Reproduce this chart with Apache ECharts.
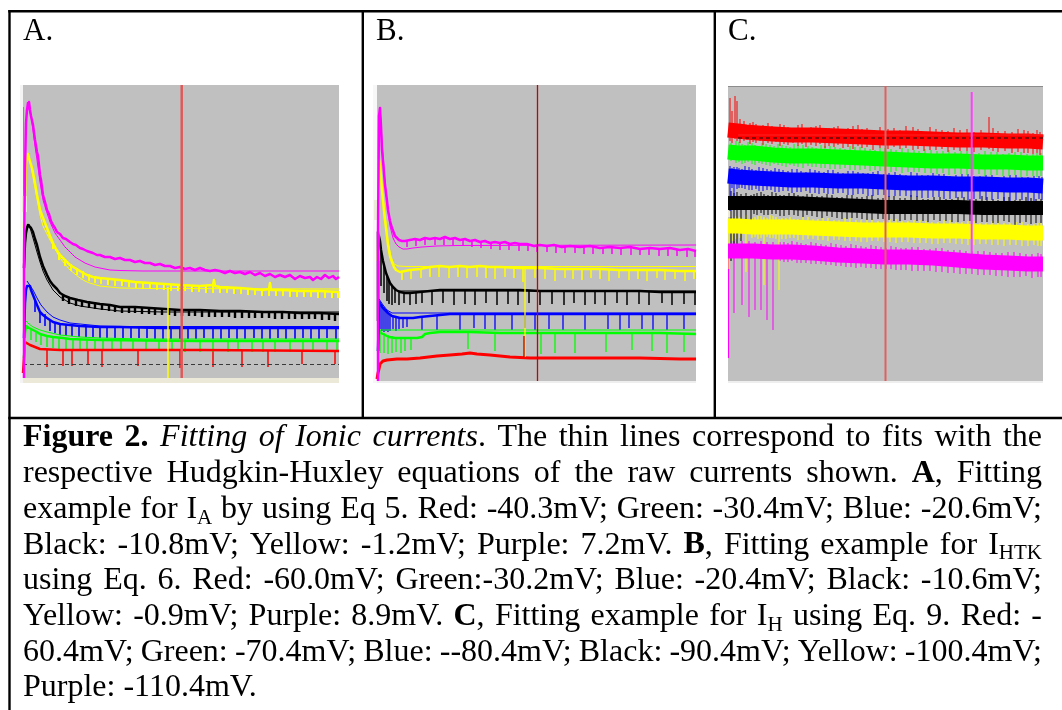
<!DOCTYPE html>
<html>
<head>
<meta charset="utf-8">
<script src="https://cdn.jsdelivr.net/npm/echarts@6/dist/echarts.min.js"></script>
<style>
  html, body { margin: 0; padding: 0; background: #fff; }
  #chart { width: 1062px; height: 710px; }
</style>
</head>
<body>
<div id="chart"></div>
<script>
// ---- panel A (I_A), axis units: samples / arbitrary current ----
var aMagRaw = [[1,0],[1,120],[2,210],[3,255],[4,268],[5,275],[5.5,270],[6,276],[7,268],[8,262],[10,253],[12,238],[14,226],[15,222],[17,203],[18,198],[20,183],[22,176],[24,168],[26,164],[28,157],[30,153],[32,150],[34,146],[37,144],[40,140],[43,139],[47,136],[50,134],[53,133],[57,130],[60,129],[64,127],[67,126],[70,125],[74,123],[77,123],[82,121],[87,121],[92,119],[97,120],[102,118],[107,118],[112,116],[117,117],[122,115],[127,115],[132,113],[137,114],[142,112],[147,112],[152,110],[157,111],[162,109],[167,110],[172,108],[177,110],[182,108],[187,107],[192,108],[197,107],[202,105],[207,107],[212,105],[217,106],[222,104],[227,106],[232,103],[237,105],[242,102],[247,104],[252,101],[257,103],[262,101],[267,103],[272,99],[277,102],[282,100],[287,101],[290,98],[294,101],[298,99],[302,103],[306,100],[310,102],[313,99],[316,101]];
var aMagFit = [[5,272],[8,262],[10,248],[12,232],[14,218],[17,196],[20,178],[24,165],[27,156],[32,145],[37,138],[42,131],[47,126],[52,121],[57,118],[62,115],[67,113],[72,111],[77,110],[87,108],[97,107.5],[120,107],[316,107]];
var aYelRaw = [[1,150],[3,215],[5,224],[6,220],[7,222],[9,210],[11,200],[14,183],[17,168],[20,160],[24,150],[27,142],[30,135],[33,129],[37,123],[42,118],[47,113],[52,110],[57,107],[64,103],[70,101],[77,100],[87,99],[97,98],[112,96],[127,95],[142,94],[157,93],[177,92],[190,93],[191,98],[192,92],[197,91],[217,90],[240,88],[246,89],[247,95],[248,88],[260,88],[277,87],[296,87],[316,86]];
var aYelFit = [[5,223],[8,212],[11,196],[14,180],[17,163],[20,152],[24,144],[27,138],[32,129],[37,120],[42,114],[47,108],[52,104],[57,100],[62,97],[67,95],[72,93.5],[77,92],[87,91],[97,90],[130,89.5],[316,89]];
var aYelTeeth = [[30,136,129],[36,125,118],[42,119,112],[48,114,107],[54,110,103],[60,107,100],[66,104,97],[72,102,95],[78,101,94],[85,100,93],[92,99,92],[99,99,92],[106,98,91],[113,97,90],[120,96,89],[127,96,89],[134,95,88],[141,95,88],[148,94,87],[155,94,87],[162,94,87],[169,93,86],[176,93,86],[183,92,85],[190,92,85],[197,92,85],[204,92,85],[211,91,84],[218,91,84],[225,90,83],[232,90,83],[239,89,82],[246,89,82],[253,89,82],[260,89,82],[267,88,81],[274,88,81],[281,88,81],[288,88,81],[295,88,80],[302,87,80],[309,87,80],[315,87,80]];
var aBlkRaw = [[1,110],[2,135],[3,145],[4,150],[5,153],[6,155],[7,151],[8,150],[10,146],[12,139],[14,133],[17,121],[20,112],[24,103],[27,97],[30,93],[34,89],[37,85],[42,82],[47,80],[55,78],[64,76],[77,74],[87,73],[97,71],[112,71],[127,70],[142,69],[157,68],[177,68],[197,67],[217,67],[240,66],[260,66],[277,65],[296,65],[316,64]];
var aBlkFit = [[6,154],[10,140],[14,126],[17,116],[20,107],[24,98],[30,88],[37,81],[47,75],[57,72],[77,69],[97,67],[140,66],[316,66]];
var aBlkTeeth = [[40,84,77],[46,81,74],[53,79,72],[59,78,71],[66,77,70],[72,76,69],[79,75,68],[86,74,67],[92,73,66],[99,72,65],[106,72,65],[112,72,65],[119,71,64],[126,71,64],[132,70,63],[139,70,63],[146,70,63],[152,69,62],[159,69,62],[166,69,62],[172,69,62],[179,68,61],[186,68,61],[192,68,61],[199,68,61],[206,68,61],[212,67,60],[219,67,60],[226,67,60],[232,67,60],[239,67,60],[246,67,60],[252,66,59],[259,66,59],[266,66,59],[272,66,59],[279,66,59],[286,66,59],[292,66,59],[299,65,58],[306,65,58],[312,65,57]];
var aBluRaw = [[1,40],[2,75],[3,88],[4,92],[5,93],[6,91],[7,92],[8,88],[10,83],[12,78],[14,73],[17,66],[20,63],[24,60],[30,56],[37,54],[47,53],[57,52],[77,51],[97,51],[137,50],[177,50],[237,50],[277,50],[316,50]];
var aBluFit = [[4,97],[6,96],[10,88],[14,80],[18,73],[24,66],[30,61],[37,58],[47,55],[57,54],[77,52],[100,51.5],[316,51.5]];
var aBluSpikes = [[12,79,66],[17,66,55],[22,64,52],[27,58,47],[32,56,45],[37,54,43],[43,53,42],[49,53,42],[56,52,41],[63,52,41],[70,52,41],[77,51,40],[84,51,40],[92,51,40],[100,51,40],[108,51,40],[116,51,40],[124,51,40],[132,50,39],[140,50,39],[148,50,39],[157,50,39],[165,50,39],[173,50,39],[181,50,40],[190,50,39],[198,50,39],[206,50,40],[214,50,39],[222,50,39],[231,50,40],[239,50,39],[247,50,39],[255,50,40],[263,50,39],[272,50,39],[280,50,40],[288,50,39],[296,50,39],[304,50,40],[313,50,39]];
var aGrnRaw = [[1,20],[2,45],[3,52],[4,54],[6,50],[10,48],[14,46],[17,44],[24,42],[30,41],[40,40],[47,39],[60,38.5],[77,38],[120,37.5],[177,37],[240,37],[316,37]];
var aGrnFit = [[3,57],[6,54],[10,51],[17,48],[24,46],[37,43],[57,41],[77,40],[120,39],[316,39]];
var aGrnSpikes = [[8,50,38],[13,47,36],[18,44,33],[24,42,31],[30,41,30],[36,40,29],[43,40,29],[50,39,28],[57,39,28],[64,38.5,28],[72,38.5,28],[80,38,27],[89,38,27],[98,38,27],[110,38,27],[123,37.5,27],[136,37.5,27],[149,37.5,27],[162,37,26],[177,37,26],[190,37,26],[205,37,26],[215,37,27],[229,37,26],[240,37,26],[252,37,26],[267,37,26],[280,37,26],[290,37,26],[304,37,26],[314,37,27]];
var aRedRaw = [[0,5],[1,20],[2,36],[4,35],[7,33],[12,31],[17,29],[27,28.5],[37,28],[77,28],[177,28],[250,27.5],[316,27]];
var aRedSpikes = [[24,28,11],[40,28,12],[49,28,12],[65,28,13],[79,28,11],[115,28,12],[157,28,10],[190,28,11],[219,28,11],[245,28,11],[279,28,14],[312,28,14]];
var aBaseline = [[0,13.5],[316,13.5]];
var aCursorX = 158.7;
var aYelMark = [[145,0],[145,91]];

// ---- panel B (I_HTK) ----
var bMagRaw = [[1,0],[1,150],[2,265],[3,273],[4,255],[5,231],[6,220],[8,196],[10,180],[11,171],[13,160],[15,153],[18,145],[20,143],[22,141],[25,140],[28,140],[33,141],[38,142],[43,141],[48,143],[53,142],[58,143],[63,142],[68,144],[73,142],[78,143],[83,141],[88,142],[93,140],[98,141],[103,139],[108,140],[113,138],[118,139],[123,138],[128,139],[133,137],[138,138],[143,137],[150,137],[157,135],[163,136],[170,135],[177,136],[185,134],[193,135],[203,134],[213,135],[223,133],[233,134],[243,133],[253,134],[263,132],[273,133],[283,132],[293,133],[303,131],[311,132],[319,130]];
var bMagFit = [[3,273],[5,240],[8,200],[10,178],[13,155],[16,143],[19,137],[22,134],[26,132],[30,132],[36,133],[45,134],[60,135],[80,135.5],[319,136]];
var bMagTeeth = [[30,141,134],[39,142,135],[48,143,136],[58,143,136],[67,143,136],[76,143,136],[86,142,135],[95,141,134],[104,140,133],[114,139,132],[123,138,131],[132,138,131],[142,137,130],[151,137,130],[160,136,129],[170,136,129],[179,135,128],[188,135,128],[198,135,128],[207,134,127],[216,134,127],[226,134,127],[235,134,127],[244,133,126],[254,133,126],[263,133,126],[272,133,126],[282,132,125],[291,132,125],[300,132,125],[310,131,124],[318,131,124]];
var bYelRaw = [[1,120],[2,221],[3,215],[5,191],[6,180],[8,161],[10,145],[11,136],[13,125],[15,119],[17,114],[19,111],[21,110],[23,109],[28,110],[33,111],[43,112],[53,114],[63,115],[73,114],[83,115],[93,114],[103,115],[113,114],[123,114],[143,113],[163,113],[183,112],[203,112],[223,112],[243,111],[263,111],[283,111],[303,110],[319,110]];
var bYelFit = [[2,221],[5,195],[8,166],[11,140],[14,124],[17,117],[21,115],[30,114.5],[319,114.5]];
var bYelTeeth = [[25,110,101],[34,111,102],[44,112,103],[53,114,104],[62,115,104],[72,114,103],[81,115,104],[90,114,103],[100,115,104],[109,114,103],[118,114,102],[128,114,104],[137,113,103],[146,113,99],[158,113,103],[168,113,102],[178,112,100],[188,112,103],[196,112,102],[205,112,101],[214,112,103],[223,112,102],[232,111,100],[242,111,103],[252,111,101],[261,111,102],[270,111,100],[280,111,103],[288,111,101],[298,110,102],[308,110,100],[317,110,102]];
var bBlkRaw = [[1,60],[1,149],[2,150],[3,140],[4,131],[6,120],[7,116],[9,108],[11,103],[13,98],[16,94],[19,91],[23,89],[28,88],[33,88],[43,89],[53,90],[63,91],[83,91],[103,91],[123,91],[143,91],[163,90],[183,90],[203,90],[223,90],[243,90],[263,90],[283,89],[303,89],[319,89]];
var bBlkFit = [[20,90],[319,90]];
var bBlkTeeth = [[4,131,95],[7,116,88],[10,106,80],[12,100,77],[15,95,76],[18,92,78],[22,90,76],[27,89,78],[33,89,76],[39,89,77],[45,90,78],[55,90,76],[66,91,78],[77,91,76],[88,91,77],[98,91,76],[109,91,78],[120,91,76],[131,91,77],[141,91,76],[152,91,78],[163,90,76],[175,90,77],[187,90,76],[197,90,78],[208,90,76],[218,90,77],[228,90,76],[240,90,78],[250,90,76],[262,90,77],[272,90,76],[285,89,78],[295,89,76],[307,89,77],[318,89,76]];
var bBluRaw = [[1,30],[2,79],[4,76],[6,73],[8,71],[11,68],[15,65],[19,64],[23,63],[30,63],[36,63],[43,64],[53,65],[63,66],[73,67],[83,67],[103,67],[123,67],[143,67],[163,67],[183,67],[203,67],[223,67],[243,67],[263,67],[283,67],[303,67],[319,67]];
var bBluFit = [[2,82],[6,76],[10,71],[15,68],[25,68],[319,68]];
var bBluSpikes = [[3,79,52],[5,76,50],[7,74,49],[9,72,50],[11,69,49],[13,67,50],[16,65,52],[19,64,50],[22,64,52],[26,63,53],[30,63,54],[45,64,51],[60,66,51],[83,67,51],[97,67,53],[108,67,52],[118,67,51],[135,67,51],[148,67,53],[158,67,51],[172,67,52],[186,67,51],[208,67,51],[231,67,52],[243,67,51],[252,67,53],[265,67,52],[276,67,51],[290,67,51],[307,67,52]];
var bGrnRaw = [[1,30],[2,51],[4,48],[8,46],[12,44],[18,43],[25,43],[33,43],[40,43],[45,44],[48,47],[53,48],[63,49],[73,49],[93,49],[123,48],[163,48],[203,48],[243,48],[283,48],[319,47]];
var bGrnFit = [[1,51],[319,51]];
var bGrnSpikes = [[3,51,28],[7,48,28],[11,46,27],[15,45,28],[19,44,29],[24,43,28],[28,43,30],[34,43,31],[91,49,32],[118,49,30],[164,48,27],[178,48,28],[198,48,28],[229,48,29],[255,48,31],[275,48,30],[290,48,28],[307,48,29]];
var bRedRaw = [[0,2],[1,8],[2,12],[3,17],[4,19],[6,20],[10,21],[20,22],[30,22],[43,23],[60,25],[73,26],[85,27],[93,28],[100,27],[113,26],[123,25],[133,24],[153,23],[183,23],[223,23],[263,23],[303,22],[319,22]];
var bCursorX = 160.5;
var bYelMark = [[148,115],[148,24]];
var bRedMark = [[147,45],[147,24]];

// ---- panel C (I_H) ----
var cRed = [[0,251],[10,250],[18,249],[30,248],[45,247],[63,246],[85,246],[110,245],[135,244],[156,243],[180,243],[205,242],[230,241],[255,241],[280,240],[300,240],[315,239]];
var cGrn = [[0,229],[10,228],[25,228],[45,226],[63,225],[85,225],[110,224],[135,223],[156,222],[180,221],[205,220],[230,220],[255,219],[280,219],[300,218],[315,218]];
var cBlu = [[0,205],[10,204],[25,203],[45,202],[63,201],[85,201],[110,200],[135,200],[156,199],[180,198],[205,198],[230,197],[255,197],[280,196],[300,196],[315,195]];
var cBlk = [[0,178],[10,178],[25,178],[45,178],[63,178],[85,177],[110,176],[135,175],[156,174],[180,174],[205,174],[230,174],[255,173],[280,173],[300,173],[315,173]];
var cYel = [[0,155],[10,155],[25,154],[45,154],[63,154],[85,153],[110,152],[135,151],[156,151],[180,151],[205,150],[230,150],[255,149],[280,149],[300,148],[315,148]];
var cMag = [[0,130],[10,130],[25,130],[45,129],[63,129],[85,128],[110,126],[135,125],[156,124],[180,124],[205,123],[230,121],[255,119],[280,118],[300,117],[315,117]];
var cRedNoise = [[2,283,240],[4,270,238],[7,285,242],[9,280,240],[12,262,238],[16,260,240],[19,256,241],[22,258,237],[25,259,239],[28,257,238],[32,255,240],[35,256,236],[40,258,238],[44,255,237],[48,254,239],[52,257,235],[56,256,237],[60,254,236],[65,253,238],[70,256,235],[74,257,237],[78,253,234],[83,254,236],[88,255,235],[92,256,237],[97,252,233],[101,253,235],[106,254,234],[110,255,236],[115,251,233],[120,253,234],[125,255,232],[130,256,235],[134,252,233],[139,253,234],[145,250,231],[152,254,233],[160,252,232],[166,253,234],[172,251,232],[178,255,233],[185,254,231],[190,252,232],[196,249,230],[202,254,231],[208,252,231],[214,251,232],[220,250,229],[226,253,231],[232,251,230],[239,252,230],[246,249,229],[253,251,231],[261,264,232],[265,253,230],[270,250,229],[277,250,230],[284,249,228],[290,252,229],[296,251,228],[300,250,228],[305,248,227],[309,251,228],[312,249,226]];
var cGrnNoise = [[3,238,220],[5,236,221],[8,240,218],[11,239,219],[14,237,217],[17,236,218],[20,239,219],[24,238,217],[27,236,216],[31,235,218],[34,238,217],[38,237,216],[42,236,215],[46,235,217],[50,237,216],[54,236,215],[58,235,214],[62,234,216],[66,237,215],[70,236,214],[75,236,213],[80,235,215],[84,234,214],[88,233,214],[93,236,213],[97,235,213],[102,235,212],[107,234,212],[112,233,212],[117,232,213],[122,235,211],[127,234,211],[132,234,211],[137,233,212],[142,232,210],[147,231,211],[152,233,210],[157,233,210],[163,232,209],[168,231,210],[174,233,208],[180,232,209],[186,231,209],[191,230,209],[197,232,208],[203,231,208],[209,230,207],[215,230,208],[221,231,206],[227,229,207],[233,230,207],[239,230,206],[245,229,206],[251,228,207],[257,230,205],[263,229,206],[269,229,206],[275,227,205],[281,228,205],[287,229,206],[293,229,204],[299,227,205],[305,227,205],[309,228,204],[313,228,205]];
var cBluNoise = [[2,215,170],[4,213,193],[6,214,180],[9,214,192],[11,213,193],[14,212,193],[17,215,192],[21,214,191],[24,212,191],[28,211,192],[31,214,190],[35,213,190],[39,212,191],[43,211,191],[47,213,189],[51,212,189],[55,211,190],[60,210,190],[64,212,188],[69,212,189],[73,210,189],[78,209,190],[82,212,188],[87,211,188],[91,210,187],[96,209,188],[100,211,187],[105,211,187],[110,209,188],[115,208,188],[120,210,186],[125,210,186],[130,209,187],[135,208,187],[140,208,185],[145,209,185],[150,210,186],[156,207,186],[161,208,184],[167,209,185],[172,207,185],[178,206,185],[183,209,184],[189,208,184],[194,206,183],[200,206,183],[205,208,184],[211,207,184],[216,207,182],[222,205,182],[228,206,183],[234,207,183],[240,207,181],[246,205,182],[252,205,182],[258,206,181],[264,206,181],[270,204,182],[276,205,180],[282,206,180],[288,206,181],[294,204,181],[300,204,180],[306,205,180],[311,205,182],[314,204,181]];
var cBlkNoise = [[3,190,120],[6,188,130],[9,189,135],[13,187,140],[18,188,150],[23,186,150],[26,187,167],[29,188,166],[33,189,168],[36,187,166],[40,186,166],[44,189,167],[48,188,167],[52,186,165],[56,186,165],[61,188,166],[66,188,166],[70,186,165],[75,185,164],[79,187,166],[84,187,165],[89,185,164],[94,185,163],[99,187,165],[104,186,164],[109,184,163],[114,184,162],[119,186,162],[124,186,163],[129,184,163],[134,184,162],[139,185,161],[144,186,161],[150,183,162],[155,183,162],[161,185,161],[166,185,160],[172,183,160],[177,183,161],[183,186,161],[189,185,160],[195,182,160],[200,182,159],[206,184,161],[212,184,160],[218,182,160],[224,182,159],[230,184,159],[236,184,160],[242,182,160],[248,182,158],[254,185,159],[259,184,159],[265,182,158],[270,181,158],[276,184,160],[281,184,159],[287,181,155],[292,182,158],[298,184,159],[303,183,157],[308,182,158],[313,182,158]];
var cYelNoise = [[1,160,112],[4,163,140],[8,165,142],[12,164,143],[18,166,109],[24,163,143],[27,164,144],[30,165,142],[33,165,143],[36,164,96],[39,163,144],[42,166,143],[45,165,143],[48,164,142],[51,162,91],[54,163,142],[58,163,142],[62,164,143],[66,162,143],[70,162,141],[75,164,141],[80,164,142],[85,162,142],[90,162,141],[95,163,141],[100,163,140],[106,161,141],[111,161,141],[117,163,140],[122,163,140],[128,161,140],[133,161,139],[139,162,139],[144,162,140],[150,160,140],[156,160,139],[162,162,139],[168,162,138],[174,160,139],[180,160,139],[186,161,138],[192,161,138],[198,160,138],[204,159,137],[210,159,137],[216,161,138],[222,161,138],[228,159,137],[234,159,137],[240,160,136],[246,160,136],[252,158,137],[258,158,137],[264,160,136],[270,160,136],[276,158,135],[282,158,136],[288,159,136],[294,159,135],[300,157,135],[306,157,136],[310,158,135],[313,158,135]];
var cMagNoise = [[0.5,136,23],[6,140,68],[14,140,76],[21,140,64],[27,139,71],[33,140,71],[39,139,61],[45,139,51],[52,139,120],[56,139,119],[60,138,119],[64,140,120],[69,139,118],[73,138,118],[78,137,118],[83,139,117],[88,138,117],[93,137,117],[98,136,116],[103,138,116],[108,137,115],[113,136,115],[118,135,114],[123,137,114],[128,136,113],[133,135,114],[138,134,113],[143,136,113],[148,135,112],[153,134,112],[158,133,112],[163,135,112],[168,134,111],[173,133,111],[178,133,111],[184,134,110],[190,134,110],[196,132,110],[202,132,110],[208,133,109],[214,133,109],[220,131,108],[226,131,108],[232,131,107],[238,130,107],[244,130,107],[250,130,106],[256,130,106],[262,129,106],[268,128,105],[274,128,105],[280,129,104],[286,129,104],[292,128,104],[298,127,105],[304,127,103],[310,128,104],[313,127,104]];
var cRedFit = [[10,246],[315,246]];
var cBaseline = [[10,243],[315,243]];
var cCursorX = 157.5;
var cMagMark = [[243.7,128],[243.7,289]];

// ---- caption ----
var capLines = [
  '*Figure 2.* _Fitting of Ionic currents_. The thin lines correspond to fits with the',
  'respective Hudgkin-Huxley equations of the raw currents shown. *A*, Fitting',
  'example for I~A~ by using Eq 5. Red: -40.3mV; Green: -30.4mV; Blue: -20.6mV;',
  'Black: -10.8mV; Yellow: -1.2mV; Purple: 7.2mV. *B*, Fitting example for I~HTK~',
  'using Eq. 6. Red: -60.0mV; Green:-30.2mV; Blue: -20.4mV; Black: -10.6mV;',
  'Yellow: -0.9mV; Purple: 8.9mV. *C*, Fitting example for I~H~ using Eq. 9. Red: -',
  '60.4mV; Green: -70.4mV; Blue: --80.4mV; Black: -90.4mV; Yellow: -100.4mV;',
  'Purple: -110.4mV.'
];
var panelLabels = ['A.', 'B.', 'C.'];

var RED = '#ff0000', GRN = '#00ff00', BLU = '#0000ff', BLK = '#000000', YEL = '#ffff00', MAG = '#ff00ff';

function line(g, data, color, width, dash) {
  return {
    type: 'line', xAxisIndex: g, yAxisIndex: g, data: data, symbol: 'none', silent: true,
    animation: false, clip: true,
    lineStyle: { color: color, width: width, type: dash || 'solid', cap: 'butt', join: 'round' }
  };
}
function ticks(g, data, color, width) {
  return {
    type: 'custom', xAxisIndex: g, yAxisIndex: g, data: data, silent: true, animation: false, clip: true,
    encode: { x: 0, y: [1, 2] },
    renderItem: function (params, api) {
      var a = api.coord([api.value(0), api.value(1)]);
      var b = api.coord([api.value(0), api.value(2)]);
      return { type: 'line', shape: { x1: a[0], y1: a[1], x2: b[0], y2: b[1] }, style: { stroke: color, lineWidth: width } };
    }
  };
}
function vline(g, x, top, color, width) {
  return line(g, [[x, 0], [x, top]], color, width);
}

var series = [
  // A
  line(0, aBaseline, '#3a3a3a', 1, [4, 3]),
  line(0, aRedRaw, RED, 2.5), ticks(0, aRedSpikes, RED, 1.5),
  line(0, aGrnRaw, GRN, 2.5), ticks(0, aGrnSpikes, GRN, 1.4), line(0, aGrnFit, GRN, 1),
  line(0, aBluRaw, BLU, 2.5), ticks(0, aBluSpikes, BLU, 1.6), line(0, aBluFit, BLU, 1),
  line(0, aBlkRaw, BLK, 2.5), ticks(0, aBlkTeeth, BLK, 2.4), line(0, aBlkFit, BLK, 1),
  line(0, aYelRaw, YEL, 2.5), ticks(0, aYelTeeth, YEL, 2), line(0, aYelFit, YEL, 1),
  line(0, aMagRaw, MAG, 2.5), line(0, aMagFit, MAG, 1),
  line(0, aYelMark, YEL, 1.5),
  vline(0, aCursorX, 293, '#de5a5a', 2.5),
  // B
  line(1, bRedRaw, RED, 3),
  line(1, bGrnRaw, GRN, 2.5), ticks(1, bGrnSpikes, GRN, 1.3), line(1, bGrnFit, GRN, 1),
  line(1, bBluRaw, BLU, 2.5), ticks(1, bBluSpikes, BLU, 1.3), line(1, bBluFit, BLU, 1),
  line(1, bBlkRaw, BLK, 2.5), ticks(1, bBlkTeeth, BLK, 1.5), line(1, bBlkFit, BLK, 1),
  line(1, bYelRaw, YEL, 2.5), ticks(1, bYelTeeth, YEL, 1.5), line(1, bYelFit, YEL, 1),
  line(1, bMagRaw, MAG, 2.5), ticks(1, bMagTeeth, MAG, 1.5), line(1, bMagFit, MAG, 1),
  line(1, bYelMark, YEL, 1.3), line(1, bRedMark, '#c00000', 1.3),
  vline(1, bCursorX, 296, '#cc0000', 1.3),
  // C
  line(2, cMag, MAG, 15), ticks(2, cMagNoise, MAG, 1),
  line(2, cYel, YEL, 15), ticks(2, cYelNoise, YEL, 1),
  line(2, cBlk, BLK, 14), ticks(2, cBlkNoise, BLK, 1),
  line(2, cBlu, BLU, 15), ticks(2, cBluNoise, BLU, 1),
  line(2, cGrn, GRN, 15), ticks(2, cGrnNoise, GRN, 1),
  line(2, cRed, RED, 15), ticks(2, cRedNoise, RED, 1),
  line(2, cRedFit, '#ff2020', 1), line(2, cBaseline, '#111', 1, [4, 3]),
  vline(2, cCursorX, 295, '#e06060', 2),
  line(2, cMagMark, '#ff40ff', 2)
];

// panel geometry
var grids = [
  { left: 23, top: 85, width: 316, height: 293, xmax: 316, ymax: 293 },
  { left: 377, top: 85, width: 319, height: 296, xmax: 319, ymax: 296 },
  { left: 728, top: 86, width: 315, height: 295, xmax: 315, ymax: 295 }
];

// caption layout: justified lines, measured with the same font the canvas uses
var capFont = 'Liberation Serif', capSize = 32, capLeft = 23, capRight = 1042, capY0 = 438, capStep = 35.7;
var mctx = document.createElement('canvas').getContext('2d');
function runFont(r) {
  var sz = r.s ? Math.round(capSize * 0.66) : capSize;
  return (r.i ? 'italic ' : 'normal ') + (r.b ? 'bold ' : 'normal ') + sz + 'px "' + capFont + '"';
}
function parseLine(s, st) {
  var words = [], cur = [], buf = '';
  function flush() { if (buf) { cur.push({ t: buf, b: st.b, i: st.i, s: st.s }); buf = ''; } }
  for (var k = 0; k < s.length; k++) {
    var c = s[k];
    if (c === '*') { flush(); st.b = !st.b; }
    else if (c === '_') { flush(); st.i = !st.i; }
    else if (c === '~') { flush(); st.s = !st.s; }
    else if (c === ' ') { flush(); if (cur.length) words.push(cur); cur = []; }
    else buf += c;
  }
  flush(); if (cur.length) words.push(cur);
  return words;
}
var graphics = [];
var st = { b: false, i: false, s: false };
capLines.forEach(function (ln, li) {
  var words = parseLine(ln, st);
  var total = 0;
  words.forEach(function (w) {
    w.width = 0;
    w.forEach(function (r) { mctx.font = runFont(r); r.w = mctx.measureText(r.t).width; w.width += r.w; });
    total += w.width;
  });
  var last = li === capLines.length - 1;
  mctx.font = runFont({});
  var gap = last ? mctx.measureText(' ').width : (capRight - capLeft - total) / (words.length - 1);
  var x = capLeft, y = capY0 + li * capStep;
  words.forEach(function (w) {
    var rx = x;
    w.forEach(function (r) {
      graphics.push({
        type: 'text', x: rx, y: r.s ? y + capSize * 0.27 : y, silent: true,
        style: { text: r.t, font: runFont(r), fill: '#000', align: 'left', verticalAlign: 'middle', textAlign: 'left', textVerticalAlign: 'middle' }
      });
      rx += r.w;
    });
    x += w.width + gap;
  });
});

// panel labels
[23, 376, 728].forEach(function (lx, i) {
  graphics.push({
    type: 'text', x: lx, y: 32, silent: true,
    style: { text: panelLabels[i], font: 'normal normal 31px "Liberation Serif"', fill: '#000', align: 'left', verticalAlign: 'middle', textAlign: 'left', textVerticalAlign: 'middle' }
  });
});

// table rules
function rule(x1, y1, x2, y2) {
  graphics.push({ type: 'line', silent: true, shape: { x1: x1, y1: y1, x2: x2, y2: y2 }, style: { stroke: '#000', lineWidth: 2.4 } });
}
rule(8.3, 11.3, 1062, 11.3);
rule(9.5, 10, 9.5, 710);
rule(362.8, 11, 362.8, 418);
rule(714.8, 11, 714.8, 418);
rule(8.3, 418, 1062, 418);

// window chrome around the recorded traces
graphics.push({ type: 'rect', silent: true, shape: { x: 20, y: 378, width: 319, height: 5 }, style: { fill: '#ece9d8' } });
graphics.push({ type: 'rect', silent: true, shape: { x: 20, y: 85, width: 3, height: 298 }, style: { fill: '#f4f4f4' } });
graphics.push({ type: 'line', silent: true, shape: { x1: 23.5, y1: 107, x2: 23.5, y2: 378 }, style: { stroke: '#8a8a8a', lineWidth: 1 } });
graphics.push({ type: 'rect', silent: true, shape: { x: 22, y: 196, width: 5, height: 16 }, style: { fill: '#ece9d8' } });
graphics.push({ type: 'rect', silent: true, shape: { x: 373, y: 85, width: 4, height: 298 }, style: { fill: '#f7f7f7' } });
graphics.push({ type: 'rect', silent: true, shape: { x: 374, y: 200, width: 5, height: 20 }, style: { fill: '#ece9d8' } });
graphics.push({ type: 'rect', silent: true, shape: { x: 377, y: 381, width: 319, height: 2 }, style: { fill: '#eeeeee' } });
graphics.push({ type: 'rect', silent: true, shape: { x: 728, y: 381, width: 315, height: 2 }, style: { fill: '#eeeeee' } });
graphics.push({ type: 'rect', silent: true, shape: { x: 728, y: 198, width: 4, height: 19 }, style: { fill: '#ece9d8' } });
graphics.push({ type: 'line', silent: true, shape: { x1: 728, y1: 86.5, x2: 1043, y2: 86.5 }, style: { stroke: '#8c8c8c', lineWidth: 1 } });

var myChart = echarts.init(document.getElementById('chart'), null, { renderer: 'canvas' });
var option = {
  backgroundColor: '#fff',
  animation: false,
  grid: grids.map(function (g) {
    return { left: g.left, top: g.top, width: g.width, height: g.height, show: true, backgroundColor: '#c0c0c0', borderWidth: 0, containLabel: false };
  }),
  xAxis: grids.map(function (g, i) {
    return { type: 'value', gridIndex: i, min: 0, max: g.xmax, show: false };
  }),
  yAxis: grids.map(function (g, i) {
    return { type: 'value', gridIndex: i, min: 0, max: g.ymax, show: false };
  }),
  series: series,
  graphic: graphics
};
myChart.setOption(option);
</script>
</body>
</html>
